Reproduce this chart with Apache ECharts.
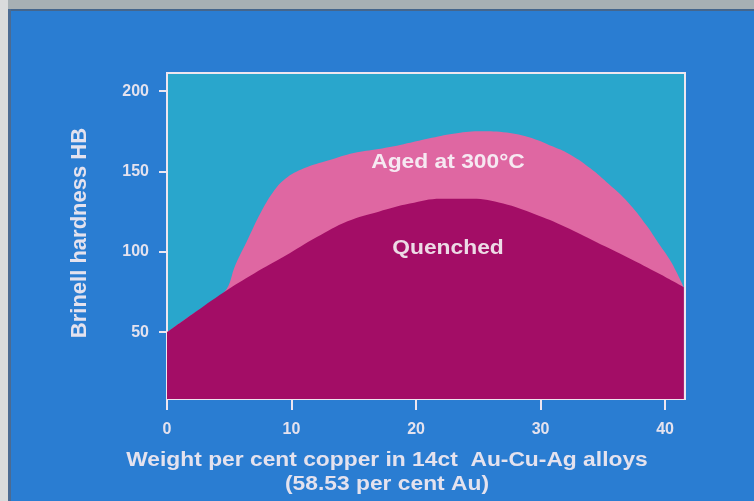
<!DOCTYPE html>
<html>
<head>
<meta charset="utf-8">
<script src="https://cdn.jsdelivr.net/npm/echarts@6/dist/echarts.min.js"></script>
<style>
html,body{margin:0;padding:0;background:#2a7dd2;}
#chart{width:754px;height:501px;}
</style>
</head>
<body>
<div id="chart"></div>
<script>
// Weight per cent copper (x) and Brinell hardness HB (y)
const quenchedX = [0, 2, 4.6, 7, 9.5, 12, 14.5, 17, 19.5, 22, 24.5, 27, 29.5, 32, 34.5, 37, 39.5, 41.5];
const quenchedY = [50, 61, 75, 86.5, 97.5, 109, 119, 125, 130, 133, 133, 130, 123.5, 115.5, 106, 96.5, 86.5, 78];

const agedX = [0, 2, 4.6, 5.5, 6.5, 7.5, 8.5, 9.5, 11, 13, 15, 17, 19, 21, 23, 25, 27, 29, 31, 32.5, 34, 35.5, 37, 38.5, 39.5, 40.5, 41.5];
const agedY = [50, 61, 75, 92, 108, 124, 137, 145.5, 152, 157, 161.5, 164, 167, 170.5, 173.5, 175, 174.5, 171.5, 165.5, 160, 152, 142, 131, 116.5, 105, 93.5, 78];

const xTicks = [0, 10, 20, 30, 40];
const yTicks = [50, 100, 150, 200];

const seriesNames = ['Aged at 300°C', 'Quenched'];
const xTitle1 = 'Weight per cent copper in 14ct  Au-Cu-Ag alloys';
const xTitle2 = '(58.53 per cent Au)';
const yTitle = 'Brinell hardness HB';

const zip = (xs, ys) => xs.map((x, i) => [x, ys[i]]);

const textColor = '#e4e2ee';
const font = 'Liberation Sans, Arial, sans-serif';
const sx = 1.14;

const chart = echarts.init(document.getElementById('chart'), null, {renderer: 'canvas'});
chart.setOption({
  backgroundColor: '#2a7dd2',
  animation: false,
  grid: {
    left: 167, right: 69, top: 73, bottom: 102,
    show: true, backgroundColor: '#29a6cc', borderColor: '#eee6f0', borderWidth: 2
  },
  xAxis: {
    type: 'value', min: 0, max: 41.6,
    axisLine: {show: true, lineStyle: {color: '#eee6f0', width: 2}},
    axisTick: {show: true, length: 11, lineStyle: {color: '#eee6f0', width: 2}, customValues: xTicks},
    axisLabel: {color: textColor, fontSize: 16, fontWeight: 'bold', fontFamily: font, margin: 23, customValues: xTicks},
    splitLine: {show: false}
  },
  yAxis: {
    type: 'value', min: 8.4, max: 211.3, offset: 4,
    axisLine: {show: false},
    axisTick: {show: true, length: 8, lineStyle: {color: '#eee6f0', width: 2}, customValues: yTicks},
    axisLabel: {color: textColor, fontSize: 16, fontWeight: 'bold', fontFamily: font, margin: 14, customValues: yTicks},
    splitLine: {show: false}
  },
  series: [
    {
      name: seriesNames[0], type: 'line', smooth: 0.4, symbol: 'none',
      data: zip(agedX, agedY),
      lineStyle: {width: 0},
      areaStyle: {color: '#df67a2', opacity: 1, origin: 'start'}
    },
    {
      name: seriesNames[1], type: 'line', smooth: 0.4, symbol: 'none',
      data: zip(quenchedX, quenchedY),
      lineStyle: {width: 0},
      areaStyle: {color: '#a30d66', opacity: 1, origin: 'start'}
    }
  ],
  graphic: [
    {type: 'rect', shape: {x: 0, y: 0, width: 754, height: 9}, style: {fill: '#a7b0b4'}, silent: true},
    {type: 'rect', shape: {x: 0, y: 9, width: 754, height: 2}, style: {fill: '#45668c'}, silent: true},
    {type: 'rect', shape: {x: 0, y: 0, width: 8, height: 501}, style: {fill: '#d9dbdc'}, silent: true},
    {type: 'rect', shape: {x: 8, y: 9, width: 3, height: 492}, style: {fill: '#4b6b92'}, silent: true},
    {type: 'text', x: 448, y: 162, z: 100, scaleX: sx, style: {text: seriesNames[0], fill: '#f6e9f2', font: 'bold 20px ' + font, textAlign: 'center', textVerticalAlign: 'middle'}},
    {type: 'text', x: 448, y: 248, z: 100, scaleX: sx, style: {text: seriesNames[1], fill: '#eddbe6', font: 'bold 20px ' + font, textAlign: 'center', textVerticalAlign: 'middle'}},
    {type: 'text', x: 387, y: 460, scaleX: sx, style: {text: xTitle1, fill: textColor, font: 'bold 20px ' + font, textAlign: 'center', textVerticalAlign: 'middle'}},
    {type: 'text', x: 387, y: 484, scaleX: sx, style: {text: xTitle2, fill: textColor, font: 'bold 20px ' + font, textAlign: 'center', textVerticalAlign: 'middle'}},
    {type: 'text', x: 80, y: 233, rotation: Math.PI / 2, style: {text: yTitle, fill: textColor, font: 'bold 22px ' + font, textAlign: 'center', textVerticalAlign: 'middle'}}
  ]
});
</script>
</body>
</html>
